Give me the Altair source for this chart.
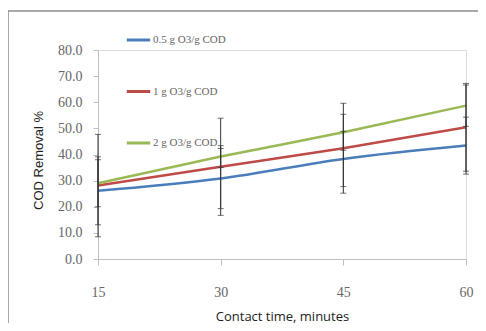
import altair as alt
import pandas as pd

times = [15, 30, 45, 60]
series_names = ["0.5 g O3/g COD", "1 g O3/g COD", "2 g O3/g COD"]
removal_05 = [26.1, 30.8, 38.3, 43.4]
removal_1 = [28.1, 35.3, 42.4, 50.4]
removal_2 = [29.0, 39.2, 48.5, 58.7]
err_05 = [13.0, 11.5, 10.6, 10.9]
err_1 = [19.6, 18.6, 17.2, 16.8]
err_2 = [9.0, 4.2, 6.9, 7.9]
colors = ["#4a7ebb", "#be4b48", "#98b954"]

rows = []
for name, vals, errs in zip(series_names, [removal_05, removal_1, removal_2], [err_05, err_1, err_2]):
    for t, v, e in zip(times, vals, errs):
        rows.append({"time": t, "series": name, "value": v, "lo": v - e, "hi": v + e})
df = pd.DataFrame(rows)

xscale = alt.Scale(domain=[15, 60], nice=False, zero=False)
yscale = alt.Scale(domain=[0, 80], nice=False)

x_axis = alt.Axis(values=times, title="Contact time, minutes", grid=False,
                  domainColor="#bfbfbf", tickColor="#bfbfbf", tickSize=6,
                  labelFont="Liberation Serif", labelFontSize=14, labelColor="#666666",
                  labelPadding=20, labelOverlap=False, labelFlush=False,
                  titleFont="Open Sans", titleFontSize=13,
                  titleFontWeight="normal", titleColor="#222222",
                  titleY=57, titleBaseline="middle")
y_axis = alt.Axis(values=[0, 10, 20, 30, 40, 50, 60, 70, 80], format=".1f",
                  title="COD Removal %", grid=False, labelOverlap=False, labelFlush=False,
                  domainColor="#bfbfbf", tickColor="#bfbfbf", tickSize=5,
                  labelFont="Liberation Serif", labelFontSize=14, labelColor="#666666",
                  labelPadding=11, titleFont="Liberation Sans", titleFontSize=13,
                  titleFontWeight="normal", titleColor="#222222",
                  titleX=-60, titleY=110, titleAlign="center", titleBaseline="middle")

x = alt.X("time:Q", scale=xscale, axis=x_axis, title="Contact time, minutes")

color = alt.Color("series:N", sort=series_names,
                  scale=alt.Scale(domain=series_names, range=colors),
                  legend=alt.Legend(title=None, orient="none", legendX=27, legendY=-23.5,
                                    symbolType="stroke", symbolSize=550, symbolStrokeWidth=3,
                                    rowPadding=31.5, labelFont="Liberation Serif",
                                    labelFontSize=11, labelColor="#666666", labelOffset=1))

base = alt.Chart(df)

lines = base.mark_line(strokeWidth=2.5, interpolate="monotone").encode(
    x=x, y=alt.Y("value:Q", scale=yscale, axis=y_axis, title="COD Removal %"), color=color)

bars = base.mark_rule(color="#333333", strokeWidth=1).encode(
    x=x, y=alt.Y("lo:Q", scale=yscale, axis=y_axis, title="COD Removal %"), y2="hi:Q")
caps_lo = base.mark_tick(color="#333333", orient="horizontal", size=6, thickness=1).encode(
    x=x, y=alt.Y("lo:Q", scale=yscale, axis=y_axis, title="COD Removal %"))
caps_hi = base.mark_tick(color="#333333", orient="horizontal", size=6, thickness=1).encode(
    x=x, y=alt.Y("hi:Q", scale=yscale, axis=y_axis, title="COD Removal %"))

frame = pd.DataFrame({"a": [0]})
border_top = alt.Chart(frame).mark_rule(stroke="#8c8c8c", strokeWidth=1.5).encode(
    x=alt.value(-90), x2=alt.value(400), y=alt.value(-39))
border_left = alt.Chart(frame).mark_rule(stroke="#8c8c8c", strokeWidth=1.5).encode(
    x=alt.value(-90), y=alt.value(-39), y2=alt.value(320))

chart = alt.layer(lines, bars, caps_lo, caps_hi, border_top, border_left).properties(
    width=368, height=209,
    autosize=alt.AutoSizeParams(type="none"),
    padding={"left": 90, "top": 42, "right": 12, "bottom": 64},
).configure_view(strokeWidth=0).configure(background="white")

chart.save("out.html", embed_options={"renderer": "svg", "actions": False})
